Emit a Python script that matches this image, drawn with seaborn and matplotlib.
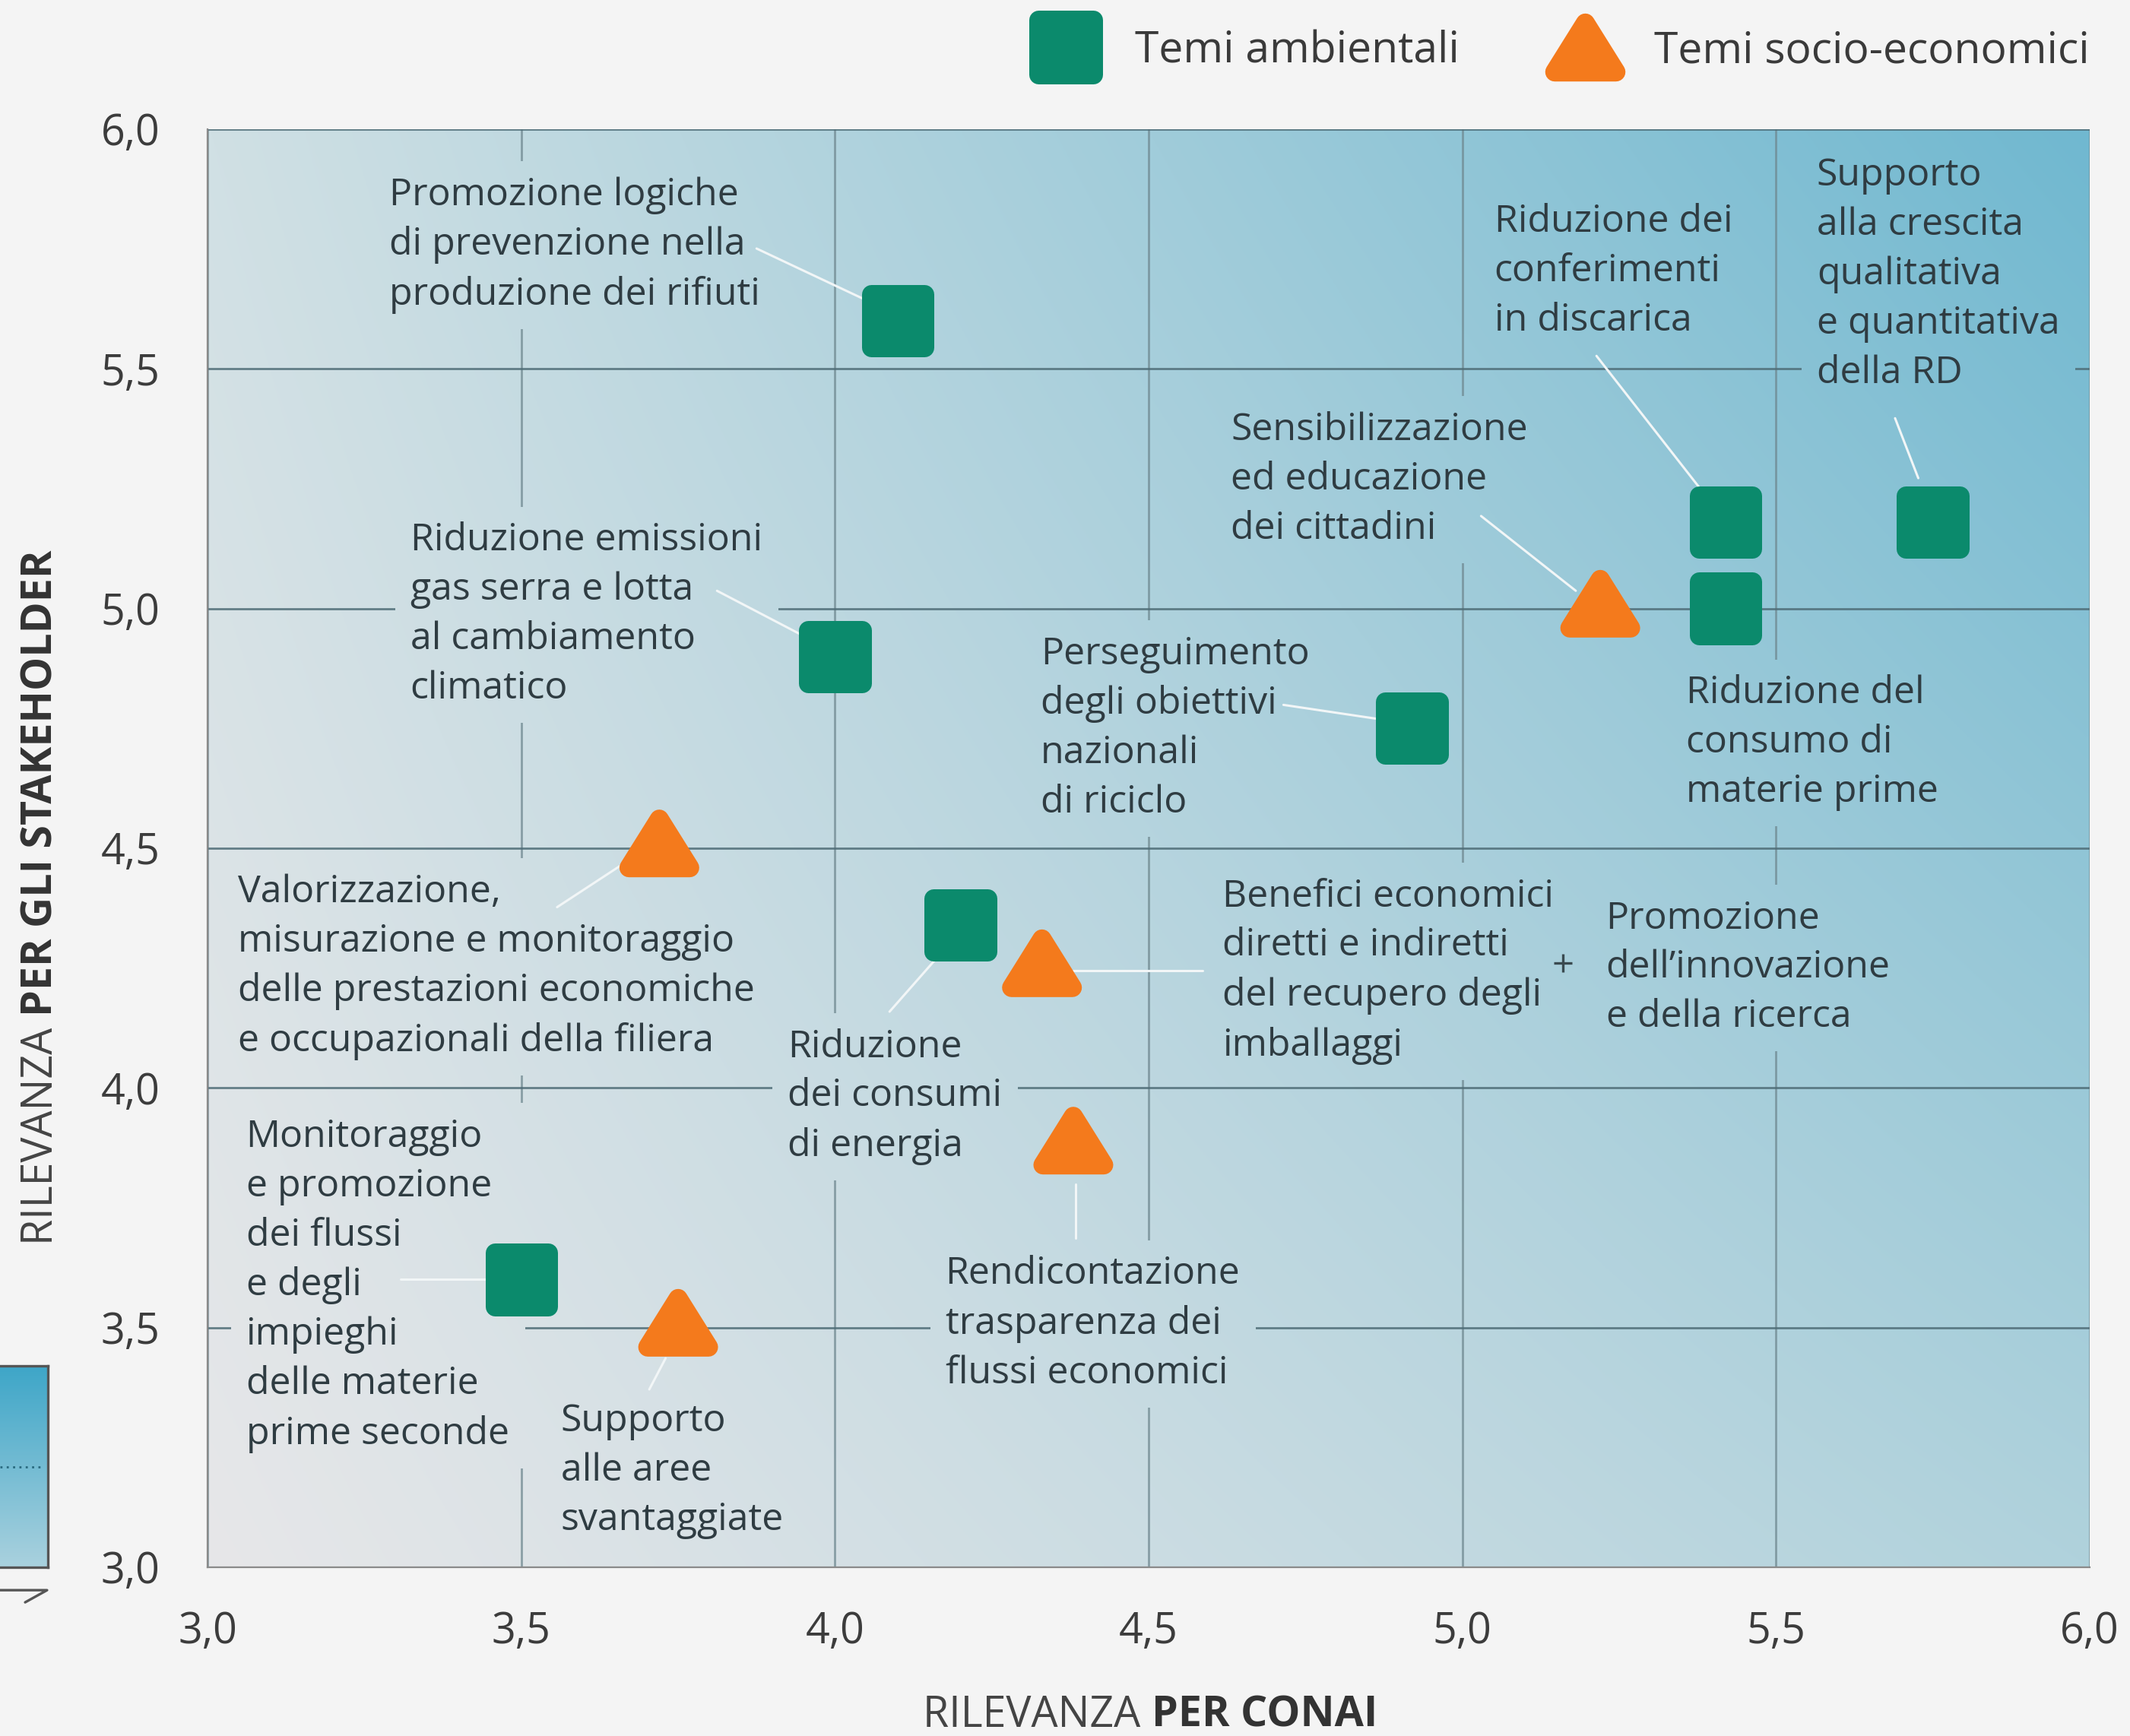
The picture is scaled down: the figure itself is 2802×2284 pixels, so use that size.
import numpy as np
import pandas as pd
import matplotlib
matplotlib.use("Agg")
import matplotlib.pyplot as plt
import matplotlib.patheffects as pe
from matplotlib.lines import Line2D
from matplotlib.markers import MarkerStyle
from matplotlib.path import Path
from matplotlib.patches import Rectangle
from matplotlib.ticker import FuncFormatter, MultipleLocator
import seaborn as sns

# --- dati ---
temi_amb = [
    "Promozione logiche\ndi prevenzione nella\nproduzione dei rifiuti",
    "Riduzione emissioni\ngas serra e lotta\nal cambiamento\nclimatico",
    "Perseguimento\ndegli obiettivi\nnazionali\ndi riciclo",
    "Riduzione dei\nconferimenti\nin discarica",
    "Riduzione del\nconsumo di\nmaterie prime",
    "Supporto\nalla crescita\nqualitativa\ne quantitativa\ndella RD",
    "Riduzione\ndei consumi\ndi energia",
    "Monitoraggio\ne promozione\ndei flussi\ne degli\nimpieghi\ndelle materie\nprime seconde",
]
amb_x = [4.10, 4.00, 4.92, 5.42, 5.42, 5.75, 4.20, 3.50]
amb_y = [5.60, 4.90, 4.75, 5.18, 5.00, 5.18, 4.34, 3.60]

temi_soc = [
    "Sensibilizzazione\ned educazione\ndei cittadini",
    "Valorizzazione,\nmisurazione e monitoraggio\ndelle prestazioni economiche\ne occupazionali della filiera",
    "Benefici economici\ndiretti e indiretti\ndel recupero degli\nimballaggi",
    "Rendicontazione\ntrasparenza dei\nflussi economici",
    "Supporto\nalle aree\nsvantaggiate",
]
soc_x = [5.22, 3.72, 4.33, 4.38, 3.75]
soc_y = [5.01, 4.51, 4.26, 3.89, 3.51]

temi_altri = ["Promozione\ndell\u2019innovazione\ne della ricerca"]
altri_x = [5.16]
altri_y = [4.26]

categorie = ["Temi ambientali", "Temi socio-economici"]

# --- impaginazione delle etichette (sinistra, linea di base della prima riga) ---
label_pos = {
    temi_amb[0]: (3.290, 5.836),
    temi_amb[1]: (3.323, 5.116),
    temi_amb[2]: (4.328, 4.878),
    temi_amb[3]: (5.051, 5.782),
    temi_amb[4]: (5.357, 4.799),
    temi_amb[5]: (5.565, 5.875),
    temi_amb[6]: (3.925, 4.060),
    temi_amb[7]: (3.061, 3.864),
    temi_soc[0]: (4.631, 5.348),
    temi_soc[1]: (3.048, 4.380),
    temi_soc[2]: (4.618, 4.371),
    temi_soc[3]: (4.176, 3.586),
    temi_soc[4]: (3.563, 3.280),
    temi_altri[0]: (5.229, 4.329),
}
leaders = [
    ((3.875, 5.751), (4.055, 5.640)),
    ((3.812, 5.037), (3.957, 4.938)),
    ((4.715, 4.799), (4.874, 4.768)),
    ((5.030, 5.193), (5.181, 5.037)),
    ((5.214, 5.527), (5.380, 5.249)),
    ((5.690, 5.397), (5.727, 5.272)),
    ((3.557, 4.377), (3.676, 4.479)),
    ((4.087, 4.159), (4.163, 4.272)),
    ((4.380, 4.244), (4.586, 4.244)),
    ((4.384, 3.799), (4.384, 3.686)),
    ((3.308, 3.601), (3.448, 3.601)),
    ((3.704, 3.371), (3.730, 3.436)),
]
LINE_STEP = 0.1011   # distanza tra righe, in unità dei dati
GAP_PX = 20          # margine attorno al testo che interrompe la griglia

GREEN = "#0b8a6c"
ORANGE = "#f47a1c"
TEXT = "#2f3c42"

sns.set_theme(style="white")
plt.rcParams["font.family"] = ["Open Sans", "DejaVu Sans"]

# sfumatura di sfondo: angoli bl, br, tl, tr
c_bl = np.array([0xe7, 0xe7, 0xe9]) / 255
c_br = np.array([0xb0, 0xd2, 0xdc]) / 255
c_tl = np.array([0xd0, 0xe0, 0xe4]) / 255
c_tr = np.array([0x70, 0xb8, 0xd0]) / 255


def bg_color(x, y):
    u = (x - 3.0) / 3.0
    v = (y - 3.0) / 3.0
    return (c_bl * (1 - u) * (1 - v) + c_br * u * (1 - v)
            + c_tl * (1 - u) * v + c_tr * u * v)


fig = plt.figure(figsize=(14.01, 11.42), dpi=200, facecolor="#f4f4f4")
ax = fig.add_axes([0.0975, 0.0972, 0.8835, 0.8284])
ax.set_facecolor("#f4f4f4")

gx, gy = np.meshgrid(np.linspace(3, 6, 300), np.linspace(3, 6, 300))
grad = bg_color(gx[..., None], gy[..., None])
ax.imshow(grad, extent=[3, 6, 3, 6], origin="lower", aspect="auto",
          interpolation="bilinear", zorder=0)

df = pd.DataFrame({
    "x": amb_x + soc_x,
    "y": amb_y + soc_y,
    "tipo": [categorie[0]] * len(amb_x) + [categorie[1]] * len(soc_x),
})
tri = Path([(-1, -0.8), (1, -0.8), (0, 0.8), (-1, -0.8)],
           [Path.MOVETO, Path.LINETO, Path.LINETO, Path.CLOSEPOLY])
sns.scatterplot(data=df, x="x", y="y", hue="tipo", style="tipo", size="tipo",
                palette={categorie[0]: GREEN, categorie[1]: ORANGE},
                markers={categorie[0]: "s", categorie[1]: tri},
                sizes={categorie[0]: 640, categorie[1]: 830},
                linewidth=9, ax=ax, legend=False, zorder=6)
for coll in ax.collections:
    coll.set_joinstyle("round")
    coll.set_edgecolor(coll.get_facecolor())
    coll.set_path_effects([pe.SimplePatchShadow(offset=(1.2, -1.5), shadow_rgbFace="#203038", alpha=0.25),
                           pe.Normal()])

ax.scatter(altri_x, altri_y, marker="+", s=70, color="#3a4a50", linewidths=1.2, zorder=6)

ax.set_xlim(3, 6)
ax.set_ylim(3, 6)

labels = []
for name, (tx, fy) in label_pos.items():
    n = name.count("\n") + 1
    t = ax.text(tx, fy - (n - 1) * LINE_STEP, name, ha="left", va="baseline",
                fontsize=18, color=TEXT, linespacing=1.41, zorder=3)
    labels.append(t)

for (x0, y0), (x1, y1) in leaders:
    ax.plot([x0, x1], [y0, y1], color="#f2f6f7", lw=1.1, zorder=4,
            solid_capstyle="round")

ax.xaxis.set_major_locator(MultipleLocator(0.5))
ax.yaxis.set_major_locator(MultipleLocator(0.5))
fmt = FuncFormatter(lambda v, p: f"{v:.1f}".replace(".", ","))
ax.xaxis.set_major_formatter(fmt)
ax.yaxis.set_major_formatter(fmt)
ax.set_axisbelow(True)
ax.xaxis.grid(True, color="#6f8890", lw=1.0, alpha=0.75)
ax.yaxis.grid(True, color="#4e6c76", lw=1.0, alpha=0.85)
ax.tick_params(axis="both", direction="out", length=12.6, width=0.8,
               color="#808080", labelsize=20, labelcolor="#3c3c3c")
ax.tick_params(axis="y", pad=10)
ax.tick_params(axis="x", pad=8)
for side in ["top", "right"]:
    ax.spines[side].set_visible(False)
for side in ["left", "bottom"]:
    ax.spines[side].set_color("#8a8a8a")
    ax.spines[side].set_linewidth(0.8)
ax.set_xlabel("")
ax.set_ylabel("")

# la griglia si interrompe attorno ai testi: stesso gradiente ritagliato sul riquadro
fig.canvas.draw()
inv = ax.transData.inverted()
for t in labels:
    bb = t.get_window_extent()
    (x0, y0), (x1, y1) = inv.transform([(bb.x0 - GAP_PX, bb.y0 - GAP_PX),
                                        (bb.x1 + GAP_PX, bb.y1 + GAP_PX)])
    clip = Rectangle((x0, y0), x1 - x0, y1 - y0, transform=ax.transData)
    patch = ax.imshow(grad, extent=[3, 6, 3, 6], origin="lower", aspect="auto",
                      interpolation="bilinear", zorder=2)
    patch.set_clip_path(clip)
ax.set_xlim(3, 6)
ax.set_ylim(3, 6)

# titoli degli assi con parte in grassetto
fig.text(0.5407, 0.0118, "RILEVANZA ", ha="right", va="center", fontsize=20, color="#444444")
fig.text(0.5407, 0.0118, "PER CONAI", ha="left", va="center", fontsize=20,
         color="#333333", fontweight="bold")
fig.text(0.0193, 0.4146, "RILEVANZA ", ha="center", va="top", rotation=90,
         fontsize=20, color="#444444")
fig.text(0.0193, 0.4146, "PER GLI STAKEHOLDER", ha="center", va="bottom", rotation=90,
         fontsize=20, color="#333333", fontweight="bold")

# legenda
handles = [
    Line2D([], [], linestyle="none", marker=MarkerStyle("s", joinstyle="round"),
           markersize=26, markerfacecolor=GREEN, markeredgecolor=GREEN, markeredgewidth=9),
    Line2D([], [], linestyle="none", marker=MarkerStyle(tri, joinstyle="round"),
           markersize=29, markerfacecolor=ORANGE, markeredgecolor=ORANGE, markeredgewidth=9),
]
leg = ax.legend(handles, categorie, loc="center right", bbox_to_anchor=(1.0, 1.054),
                ncol=2, frameon=False, fontsize=20.5, borderaxespad=0, borderpad=0,
                handletextpad=0.9, columnspacing=2.2, handlelength=1.4)
for t in leg.get_texts():
    t.set_color("#3a3a3a")

# riquadro tagliato a sinistra (frammento di legenda)
cax = fig.add_axes([0.0, 0.0972, 0.0225, 0.116])
strip = np.linspace(0, 1, 100)[:, None, None]
top_c = np.array([0x3e, 0xa6, 0xc8]) / 255
bot_c = np.array([0xa9, 0xd1, 0xde]) / 255
cax.imshow(bot_c * (1 - strip) + top_c * strip, origin="lower", aspect="auto",
           extent=[0, 1, 0, 1])
cax.plot([0, 0.85], [0.5, 0.5], color="#2a6b80", lw=1, ls=(0, (1, 2)))
cax.set_xticks([])
cax.set_yticks([])
for s in cax.spines.values():
    s.set_color("#555555")
    s.set_linewidth(1.2)
cax.spines["left"].set_visible(False)
fig.add_artist(Line2D([0.0, 0.0221, 0.0118], [0.0840, 0.0840, 0.0770],
                      transform=fig.transFigure, color="#555555", lw=1.2))

fig.savefig("out.png", dpi=200, facecolor=fig.get_facecolor())
